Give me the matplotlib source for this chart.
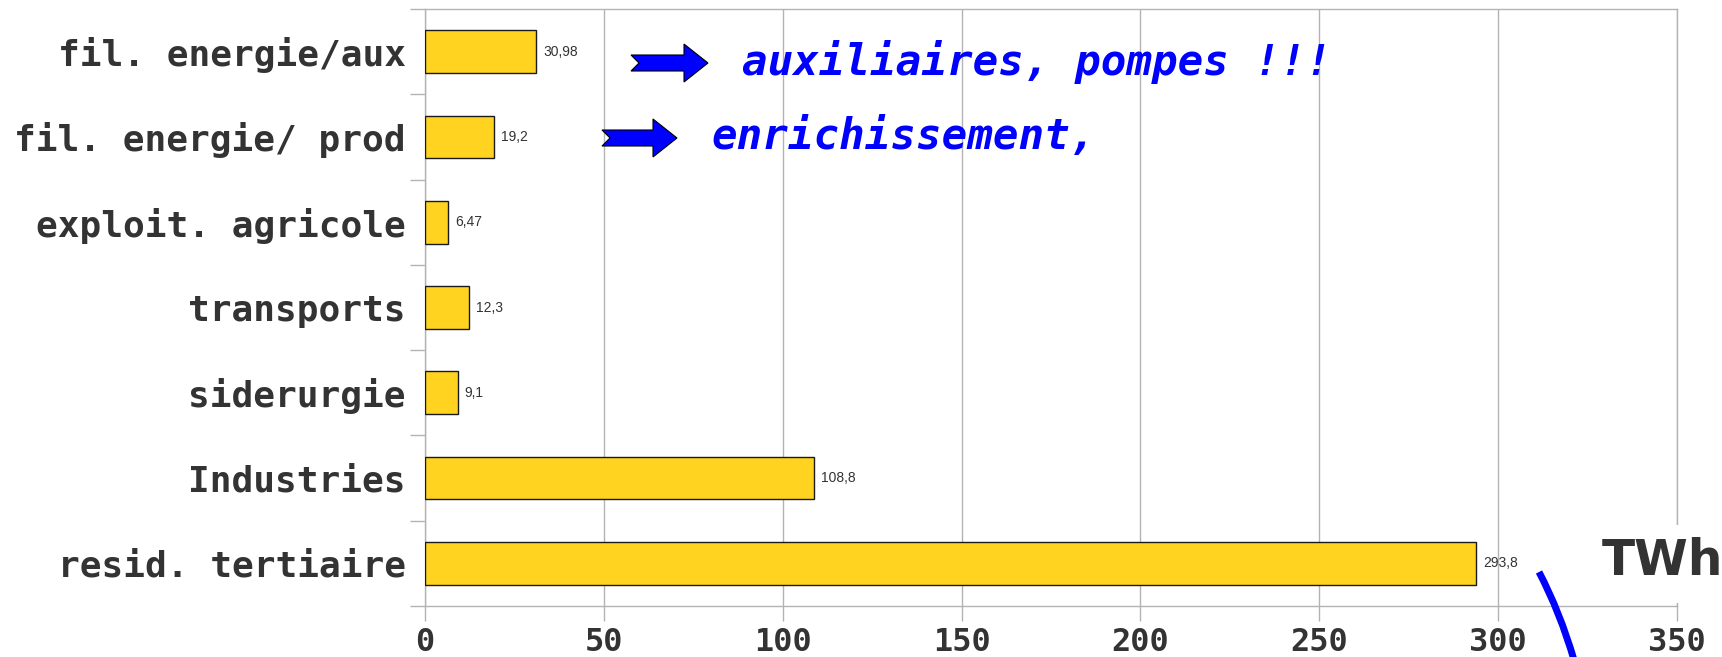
import matplotlib.pyplot as plt
import matplotlib.patches as mpatches
from matplotlib.path import Path
import numpy as np

# données (TWh), de haut en bas
categories = ['fil. energie/aux', 'fil. energie/ prod', 'exploit. agricole',
              'transports', 'siderurgie', 'Industries', 'resid. tertiaire']
values = [30.98, 19.2, 6.47, 12.3, 9.1, 108.8, 293.8]
value_labels = ['30,98', '19,2', '6,47', '12,3', '9,1', '108,8', '293,8']
xticks = [0, 50, 100, 150, 200, 250, 300, 350]

W, H = 1722, 657
grey = '#b3b3b3'
dark = '#333333'

fig = plt.figure(figsize=(W / 100, H / 100), dpi=100)
ax = fig.add_axes([425 / W, 1 - 606 / H, (1677 - 425) / W, (606 - 9) / H])

n = len(categories)
ypos = np.arange(n)[::-1]
ax.barh(ypos, values, height=0.5, color='#ffd320', edgecolor='#1a1a1a',
        linewidth=1.0, zorder=3)
for y, v, lab in zip(ypos, values, value_labels):
    ax.text(v + 2.0, y, lab, va='center', ha='left', fontsize=10,
            family='Liberation Sans', color=dark)

ax.set_xlim(0, 350)
ax.set_ylim(-0.5, n - 0.5)
ax.set_xticks(xticks)
ax.set_xticklabels([str(t) for t in xticks], family='DejaVu Sans Mono',
                   fontweight='bold', fontsize=23, color=dark)
ax.set_yticks(ypos)
ax.set_yticklabels(categories, family='DejaVu Sans Mono', fontweight='bold',
                   fontsize=26, color=dark)
ax.set_yticks(np.arange(-0.5, n, 1.0), minor=True)
ax.tick_params(axis='y', which='major', length=0, pad=14)
ax.tick_params(axis='y', which='minor', length=11, color=grey, width=1)
ax.tick_params(axis='x', which='major', length=11, color=grey, width=1, pad=4)
ax.grid(axis='x', color=grey, linewidth=1, zorder=0)
for s in ax.spines.values():
    s.set_color(grey)
    s.set_linewidth(1)
ax.set_axisbelow(True)

# annotations
blue = '#0000ff'
fig.text(742 / W, 1 - 62 / H, 'auxiliaires, pompes !!!', family='DejaVu Sans Mono',
         fontweight='bold', style='italic', fontsize=30.6, color=blue, va='center')
fig.text(711 / W, 1 - 137 / H, 'enrichissement,', family='DejaVu Sans Mono',
         fontweight='bold', style='italic', fontsize=30.6, color=blue, va='center')


def block_arrow(x0, yc, length, head_len, head_h, shaft_h, notch):
    pts = [(x0, yc - shaft_h / 2), (x0 + length - head_len, yc - shaft_h / 2),
           (x0 + length - head_len, yc - head_h / 2), (x0 + length, yc),
           (x0 + length - head_len, yc + head_h / 2),
           (x0 + length - head_len, yc + shaft_h / 2), (x0, yc + shaft_h / 2),
           (x0 + notch, yc)]
    pts = [(px / W, 1 - py / H) for px, py in pts]
    fig.patches.append(mpatches.Polygon(pts, closed=True, facecolor=blue,
                                        edgecolor='black', linewidth=0.8,
                                        transform=fig.transFigure))


block_arrow(631, 63, 77, 24, 38, 16, 8)
block_arrow(602, 138, 75, 24, 38, 16, 8)

# cadre blanc derrière "TWh"
fig.patches.append(mpatches.Rectangle((1592 / W, 1 - 603 / H), 130 / W, 78 / H,
                                      facecolor='white', edgecolor='none',
                                      transform=fig.transFigure))
fig.text(1662 / W, 1 - 561 / H, 'TWh', family='DejaVu Sans', fontweight='bold',
         fontsize=35, color=dark, ha='center', va='center')

# trait bleu courbe
verts = [(1539 / W, 1 - 572 / H), (1560 / W, 1 - 612 / H), (1574 / W, 1 - 660 / H)]
curve = mpatches.PathPatch(Path(verts, [Path.MOVETO, Path.CURVE3, Path.CURVE3]),
                           facecolor='none', edgecolor=blue, linewidth=5,
                           transform=fig.transFigure)
fig.patches.append(curve)

fig.savefig('out.png', dpi=100, facecolor='white')
